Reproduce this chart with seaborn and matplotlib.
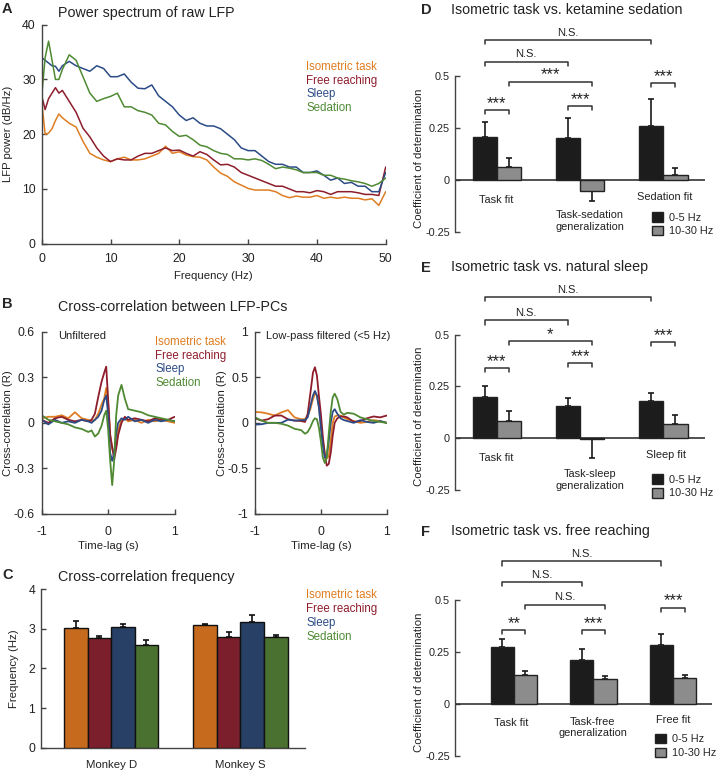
import numpy as np
import pandas as pd
import matplotlib
matplotlib.use("Agg")
import matplotlib.pyplot as plt
import seaborn as sns

# ---------------- data ----------------
conditions = ["Isometric task", "Free reaching", "Sleep", "Sedation"]

# A: power spectrum of raw LFP (dB/Hz)
freq_hz = [0, 0.5, 1, 1.5, 2, 2.5, 3, 4, 5, 6, 7, 8, 9, 10, 11, 12, 13, 14, 15, 16, 17, 18,
           19, 20, 21, 22, 23, 24, 25, 26, 27, 28, 29, 30, 31, 32, 33, 34, 35, 36, 37, 38,
           39, 40, 41, 42, 43, 44, 45, 46, 47, 48, 49, 50]
power_iso = [26, 20, 20.2, 21, 22.5, 23.7, 23, 22, 21.3, 18.7, 16.5, 15.8, 15.3, 15, 15.5, 15.8,
             15.3, 15.3, 15.5, 16, 16.5, 17.8, 16.5, 16.8, 16.2, 15.9, 15.8, 15.3, 14, 12.9, 12.3,
             11.3, 10.7, 10.1, 9.8, 9.8, 9.8, 9.5, 8.8, 8.4, 8.7, 8.5, 8.5, 8.8, 8.3, 8.5, 8.3,
             8.5, 8.3, 8.3, 8, 8.2, 7.0, 9.5]
power_free = [27, 24.5, 26.5, 27.5, 28.5, 27.5, 28, 26, 24, 21.1, 19.5, 17.5, 16, 15, 15.5, 15.3,
              15.3, 16, 16.5, 16.5, 17, 17.5, 17, 17.1, 16.5, 16, 16.8, 16.3, 15.3, 14.4, 14.5,
              14, 13, 12.5, 12, 11.5, 11, 10.5, 10.5, 10, 9.5, 9.5, 9.3, 9.7, 9.5, 9, 9.5, 9.5,
              9.5, 9.3, 9, 9, 8.8, 14]
power_sleep = [34, 33.5, 33, 32.5, 32.4, 31.5, 32.5, 33.3, 32.5, 32, 31.5, 32.5, 32, 30.5, 30.5,
               31, 29.5, 28.4, 28.3, 29, 27, 26, 25, 23.5, 22.5, 23, 22, 21.5, 21.5, 21, 20, 19,
               17.5, 17, 17, 16, 15, 14.5, 14.5, 14, 14, 13, 13, 13.3, 12.5, 11.6, 12, 11, 11.2,
               10.5, 10.5, 9.5, 9.5, 13]
power_sed = [27, 34, 37, 33.5, 30, 30, 31.8, 34.5, 33.5, 30.5, 27.5, 26, 26.5, 26.9, 27.5, 25,
             25, 24.3, 24, 23.5, 22, 21.7, 20.5, 19.6, 19.8, 19, 18, 17.7, 17, 16.5, 16.3, 15.5,
             15.5, 15.3, 15.5, 15.2, 14.5, 13.7, 14, 13.8, 13.5, 13, 13, 13, 12.5, 12.5, 12,
             11.8, 11.5, 11.3, 11, 10.5, 11, 12]

# B: cross-correlation between LFP-PCs
lag_raw = [-1, -0.9, -0.8, -0.7, -0.6, -0.5, -0.4, -0.3, -0.25, -0.2, -0.15, -0.1, -0.06, -0.03,
           0, 0.03, 0.06, 0.09, 0.12, 0.15, 0.2, 0.25, 0.3, 0.4, 0.5, 0.6, 0.7, 0.8, 0.9, 1.0]
cc_raw_iso = [0.03, 0.04, 0.04, 0.05, 0.03, 0.07, 0.03, 0.02, 0.01, 0.02, 0.06, 0.12, 0.16, 0.23,
              0.12, -0.08, -0.17, -0.21, -0.15, -0.05, 0.02, 0.03, 0.01, 0.02, 0.0, 0.02, 0.01,
              0.02, 0.01, 0.0]
cc_raw_free = [0.02, 0.0, 0.03, 0.04, 0.02, 0.01, 0.02, 0.01, 0.02, 0.06, 0.17, 0.27, 0.33, 0.37,
               0.15, -0.08, -0.16, -0.24, -0.17, -0.08, 0.0, 0.04, 0.02, 0.03, 0.02, 0.01, 0.03,
               0.02, 0.02, 0.04]
cc_raw_sleep = [0.02, -0.01, 0.02, 0.0, 0.01, 0.0, 0.02, 0.01, 0.0, 0.02, 0.04, 0.08, 0.15, 0.18,
                0.05, -0.2, -0.25, -0.2, -0.07, 0.0, 0.03, 0.02, 0.04, 0.01, 0.02, 0.0, 0.02,
                0.01, 0.02, 0.01]
cc_raw_sed = [0.05, 0.02, 0.01, 0.0, -0.01, -0.03, -0.04, -0.06, -0.05, -0.09, -0.07, -0.02,
              0.05, 0.08, -0.05, -0.25, -0.41, -0.25, 0.05, 0.18, 0.25, 0.16, 0.09, 0.08, 0.07,
              0.05, 0.04, 0.03, 0.02, 0.01]

lag_lp = [-1, -0.9, -0.8, -0.7, -0.6, -0.5, -0.4, -0.3, -0.24, -0.2, -0.16, -0.12, -0.09, -0.06,
          -0.03, 0.0, 0.03, 0.06, 0.09, 0.12, 0.15, 0.18, 0.21, 0.25, 0.3, 0.35, 0.4, 0.5, 0.6,
          0.7, 0.8, 0.9, 1.0]
cc_lp_iso = [0.12, 0.115, 0.1, 0.08, 0.115, 0.14, 0.06, 0.04, 0.04, 0.08, 0.15, 0.26, 0.32, 0.3,
             0.18, -0.02, -0.2, -0.33, -0.39, -0.37, -0.2, 0.0, 0.07, 0.08, 0.08, 0.06, 0.04,
             0.02, 0.0, 0.01, 0.03, 0.02, 0.0]
cc_lp_free = [0.05, 0.025, 0.04, 0.08, 0.08, 0.04, 0.025, 0.02, 0.01, 0.1, 0.32, 0.55, 0.61,
              0.52, 0.3, 0.1, -0.15, -0.35, -0.47, -0.45, -0.33, -0.14, 0.0, 0.05, 0.07, 0.07,
              0.06, 0.01, 0.02, 0.05, 0.07, 0.06, 0.08]
cc_lp_sleep = [-0.02, -0.015, 0.0, 0.0, 0.0, 0.035, 0.025, 0.03, 0.03, 0.06, 0.18, 0.3, 0.35,
               0.3, 0.17, -0.05, -0.25, -0.38, -0.36, -0.2, 0.0, 0.12, 0.15, 0.1, 0.05, 0.03,
               0.02, 0.0, 0.03, 0.01, 0.0, 0.02, 0.0]
cc_lp_sed = [0.06, 0.025, 0.0, 0.0, -0.01, -0.03, -0.065, -0.08, -0.12, -0.1, -0.05, 0.02, 0.05,
             0.04, -0.05, -0.2, -0.38, -0.44, -0.38, -0.12, 0.12, 0.28, 0.32, 0.26, 0.12, 0.09,
             0.11, 0.1, 0.06, 0.04, 0.02, 0.01, 0.0]

# C: cross-correlation frequency (Hz), [Monkey D, Monkey S]
monkeys = ["Monkey D", "Monkey S"]
ccf_iso = [3.01, 3.09]
ccf_free = [2.76, 2.79]
ccf_sleep = [3.03, 3.16]
ccf_sed = [2.59, 2.78]
ccf_iso_err = [0.18, 0.04]
ccf_free_err = [0.06, 0.13]
ccf_sleep_err = [0.10, 0.18]
ccf_sed_err = [0.12, 0.06]

# D-F: coefficient of determination
bands = ["0-5 Hz", "10-30 Hz"]
models_d = ["Task fit", "Task-sedation\ngeneralization", "Sedation fit"]
r2_d_low = [0.205, 0.20, 0.26]
r2_d_high = [0.06, -0.055, 0.025]
r2_d_low_err = [0.075, 0.097, 0.13]
r2_d_high_err = [0.044, 0.045, 0.033]

models_e = ["Task fit", "Task-sleep\ngeneralization", "Sleep fit"]
r2_e_low = [0.20, 0.155, 0.18]
r2_e_high = [0.08, -0.004, 0.07]
r2_e_low_err = [0.05, 0.04, 0.04]
r2_e_high_err = [0.05, 0.091, 0.04]

models_f = ["Task fit", "Task-free\ngeneralization", "Free fit"]
r2_f_low = [0.274, 0.213, 0.285]
r2_f_high = [0.139, 0.119, 0.126]
r2_f_low_err = [0.04, 0.051, 0.054]
r2_f_high_err = [0.02, 0.015, 0.014]

# significance marks: ((group, band), (group, band), label)
sig_d = [((0, 0), (0, 1), "***"), ((1, 0), (1, 1), "***"), ((2, 0), (2, 1), "***"),
         ((0, 1), (1, 1), "***"), ((0, 0), (1, 0), "N.S."), ((0, 0), (2, 0), "N.S.")]
sig_e = [((0, 0), (0, 1), "***"), ((1, 0), (1, 1), "***"), ((2, 0), (2, 1), "***"),
         ((0, 1), (1, 1), "*"), ((0, 0), (1, 0), "N.S."), ((0, 0), (2, 0), "N.S.")]
sig_f = [((0, 0), (0, 1), "**"), ((1, 0), (1, 1), "***"), ((2, 0), (2, 1), "***"),
         ((0, 1), (1, 1), "N.S."), ((0, 0), (1, 0), "N.S."), ((0, 0), (2, 0), "N.S.")]

# ---------------- style ----------------
line_colors = ["#DF7D22", "#8E1D2C", "#2C4B86", "#4F8A33"]
bar_colors = ["#C66A1E", "#7A1F2B", "#283F66", "#4B7130"]
band_colors = ["#1C1C1C", "#8C8C8C"]
spine_c = "#444444"
text_c = "#222222"

sns.set_style("ticks")
plt.rcParams["font.family"] = ["Liberation Sans", "DejaVu Sans"]
plt.rcParams["axes.unicode_minus"] = False

W, H = 720, 773
fig = plt.figure(figsize=(W / 100, H / 100), dpi=100)


def add_ax(x0, y0, x1, y1):
    return fig.add_axes([x0 / W, 1 - y1 / H, (x1 - x0) / W, (y1 - y0) / H])


def ftext(x, y, s, **kw):
    fig.text(x / W, 1 - y / H, s, va="center", **kw)


def style_axes(ax, xpad=6.5, ypad=4.3, ticksize=8.8):
    sns.despine(ax=ax)
    for s in ("left", "bottom"):
        ax.spines[s].set_color(spine_c)
        ax.spines[s].set_linewidth(1.0)
    ax.tick_params(direction="in", length=3.5, width=1, color=spine_c,
                   labelsize=ticksize, labelcolor=text_c)
    ax.tick_params(axis="x", pad=xpad)
    ax.tick_params(axis="y", pad=ypad)
    ax.xaxis.label.set_size(8.2)
    ax.yaxis.label.set_size(8.2)
    ax.xaxis.label.set_color(text_c)
    ax.yaxis.label.set_color(text_c)


def long_df(x, series, xname, yname):
    return pd.concat([pd.DataFrame({xname: x, yname: s, "condition": c})
                      for c, s in zip(conditions, series)], ignore_index=True)


# ---------------- A ----------------
ax_a = add_ax(41.7, 24.7, 385.7, 243.7)
df_a = long_df(freq_hz, [power_iso, power_free, power_sleep, power_sed], "freq", "power")
sns.lineplot(data=df_a, x="freq", y="power", hue="condition", hue_order=conditions,
             palette=line_colors, linewidth=1.1, estimator=None, legend=False, ax=ax_a)
ax_a.set(xlim=(0, 50), ylim=(0, 40), xticks=[0, 10, 20, 30, 40, 50], yticks=[0, 10, 20, 30, 40])
ax_a.set_xlabel("Frequency (Hz)")
ax_a.set_ylabel("LFP power (dB/Hz)")
style_axes(ax_a, xpad=6.5, ypad=4.3)
ax_a.xaxis.set_label_coords(0.5, -0.125)
ax_a.yaxis.set_label_coords(-0.083, 0.5)
ftext(2, 9, "A", fontsize=10.5, fontweight="bold")
ftext(58, 13, "Power spectrum of raw LFP", fontsize=10.3, color=text_c)
for i, (c, col) in enumerate(zip(conditions, line_colors)):
    ftext(306.5, 66.7 + 13.9 * i, c, fontsize=8.3, color=col)

# ---------------- B ----------------
raw_ticks = [-0.6, -0.3, 0, 0.3, 0.6]
raw_ticklabels = ["-0.6", "-0.3", "0", "0.3", "0.6"]
lp_ticks = [-1, -0.5, 0, 0.5, 1]
lp_ticklabels = ["-1", "-0.5", "0", "0.5", "1"]
lag_ticks = [-1, 0, 1]
lag_ticklabels = ["-1", "0", "1"]

ax_b1 = add_ax(41.7, 331.7, 174.7, 514)
ax_b2 = add_ax(255, 331.7, 386.7, 514)
panels_b = [
    (ax_b1, lag_raw, [cc_raw_iso, cc_raw_free, cc_raw_sleep, cc_raw_sed], (-0.6, 0.6),
     raw_ticks, raw_ticklabels, "Unfiltered", -0.218),
    (ax_b2, lag_lp, [cc_lp_iso, cc_lp_free, cc_lp_sleep, cc_lp_sed], (-1, 1),
     lp_ticks, lp_ticklabels, "Low-pass filtered (<5 Hz)", -0.214),
]
for ax, lags, series, ylim, yt, ytl, note, ylab_x in panels_b:
    df_b = long_df(lags, series, "lag", "cc")
    sns.lineplot(data=df_b, x="lag", y="cc", hue="condition", hue_order=conditions,
                 palette=line_colors, linewidth=1.3, estimator=None, legend=False, ax=ax)
    ax.set(xlim=(-1, 1), ylim=ylim)
    ax.set_xticks(lag_ticks, lag_ticklabels)
    ax.set_yticks(yt, ytl)
    ax.set_xlabel("Time-lag (s)")
    ax.set_ylabel("Cross-correlation (R)")
    style_axes(ax, xpad=8.5, ypad=5)
    ax.xaxis.set_label_coords(0.5, -0.15)
    ax.yaxis.set_label_coords(ylab_x, 0.5)
    ax.text(0.12 if ax is ax_b1 else 0.08, 0.975, note, transform=ax.transAxes,
            fontsize=8, color=text_c, va="center")
ftext(2, 304, "B", fontsize=10.5, fontweight="bold")
ftext(58, 307, "Cross-correlation between LFP-PCs", fontsize=10.3, color=text_c)
for i, (c, col) in enumerate(zip(conditions, line_colors)):
    ftext(155, 341.7 + 13.9 * i, c, fontsize=8.3, color=col)

# ---------------- C ----------------
ax_c = add_ax(41.3, 589, 305, 747.7)
df_c = long_df(monkeys, [ccf_iso, ccf_free, ccf_sleep, ccf_sed], "monkey", "freq")
sns.barplot(data=df_c, x="monkey", y="freq", hue="condition", hue_order=conditions,
            palette=bar_colors, width=0.73, edgecolor="#111111", linewidth=1.0,
            errorbar=None, legend=False, saturation=1, ax=ax_c, zorder=3)
for cont, vals, errs in zip(ax_c.containers, [ccf_iso, ccf_free, ccf_sleep, ccf_sed],
                            [ccf_iso_err, ccf_free_err, ccf_sleep_err, ccf_sed_err]):
    xs = [b.get_x() + b.get_width() / 2 for b in cont]
    ax_c.errorbar(xs, vals, yerr=[[0] * len(errs), errs], fmt="none", ecolor="#111111",
                  elinewidth=1.2, capsize=2, capthick=1.2, zorder=2)
ax_c.set(xlim=(-0.54, 1.5), ylim=(0, 4), yticks=[0, 1, 2, 3, 4])
ax_c.set_xlabel("")
ax_c.set_ylabel("Frequency (Hz)")
style_axes(ax_c, xpad=9, ypad=4.5)
ax_c.tick_params(axis="x", length=0, labelsize=8.2)
ax_c.yaxis.set_label_coords(-0.085, 0.5)
ftext(2, 575, "C", fontsize=10.5, fontweight="bold")
ftext(58, 577, "Cross-correlation frequency", fontsize=10.3, color=text_c)
for i, (c, col) in enumerate(zip(conditions, line_colors)):
    ftext(306.5, 595 + 13.9 * i, c, fontsize=8.3, color=col)


# ---------------- D-F ----------------
def r2_panel(ax, models, low, high, low_err, high_err, sig, levels, xlim, label_xy,
             legend_xy):
    df = pd.DataFrame({"model": models * 2,
                       "band": [bands[0]] * len(models) + [bands[1]] * len(models),
                       "r2": low + high})
    ax.axhline(0, color="#333333", lw=1.2, zorder=1)
    sns.barplot(data=df, x="model", y="r2", hue="band", hue_order=bands, palette=band_colors,
                width=0.58, edgecolor="#222222", linewidth=1.0, errorbar=None, saturation=1,
                ax=ax, zorder=3)
    centers = []
    for cont, vals, errs in zip(ax.containers, [low, high], [low_err, high_err]):
        xs = [b.get_x() + b.get_width() / 2 for b in cont]
        centers.append(xs)
        down = [e if v < 0 else 0 for v, e in zip(vals, errs)]
        up = [e if v >= 0 else 0 for v, e in zip(vals, errs)]
        ax.errorbar(xs, vals, yerr=[down, up], fmt="none", ecolor="#1A1A1A",
                    elinewidth=1.2, capsize=2, capthick=1.2, zorder=2)
    for ((g1, b1), (g2, b2), txt), y in zip(sig, levels):
        x1, x2 = centers[b1][g1], centers[b2][g2]
        ax.plot([x1, x1, x2, x2], [y - 0.02, y, y, y - 0.02], color="#333333", lw=1.1)
        if "*" in txt:
            ax.text((x1 + x2) / 2, y - 0.004, txt, ha="center", va="bottom", fontsize=12,
                    color=text_c)
        else:
            ax.text((x1 + x2) / 2, y + 0.012, txt, ha="center", va="bottom", fontsize=8,
                    color=text_c)
    for m, (x, y) in zip(models, label_xy):
        ax.text(x, y, m, ha="center", va="center", fontsize=7.9, color=text_c,
                linespacing=1.2)
    ax.set(xlim=xlim, ylim=(-0.26, 0.8))
    ax.set_yticks([-0.25, 0, 0.25, 0.5], ["-0.25", "0", "0.25", "0.5"])
    ax.set_xticks([])
    ax.set_xlabel("")
    ax.set_ylabel("Coefficient of determination")
    style_axes(ax, ypad=3.6, ticksize=7.8)
    sns.despine(ax=ax, bottom=True)
    ax.spines["left"].set_bounds(-0.25, 0.5)
    ax.yaxis.set_label_coords(-0.122, 0.345)
    sns.move_legend(ax, "upper left", bbox_to_anchor=legend_xy, title=None, frameon=False,
                    fontsize=7.8, handlelength=1.0, handleheight=1.0, handletextpad=0.6,
                    labelspacing=0.3, borderpad=0, borderaxespad=0)


ax_d = add_ax(455, 13.6, 705, 234)
r2_panel(ax_d, models_d, r2_d_low, r2_d_high, r2_d_low_err, r2_d_high_err, sig_d,
         [0.337, 0.356, 0.465, 0.473, 0.569, 0.673],
         (-0.5, 2.5), [(0, -0.096), (1.12, -0.197), (2.02, -0.082)], (0.788, 0.1))
ftext(421, 10, "D", fontsize=10.5, fontweight="bold")
ftext(451, 10, "Isometric task vs. ketamine sedation", fontsize=10.3, color=text_c)

ax_e = add_ax(455, 273, 705, 491.6)
r2_panel(ax_e, models_e, r2_e_low, r2_e_high, r2_e_low_err, r2_e_high_err, sig_e,
         [0.338, 0.362, 0.464, 0.471, 0.57, 0.682],
         (-0.5, 2.5), [(0, -0.097), (1.12, -0.204), (2.03, -0.083)], (0.788, 0.08))
ftext(421, 268, "E", fontsize=10.5, fontweight="bold")
ftext(451, 267, "Isometric task vs. natural sleep", fontsize=10.3, color=text_c)

ax_f = add_ax(455, 538, 712, 758)
r2_panel(ax_f, models_f, r2_f_low, r2_f_high, r2_f_low_err, r2_f_high_err, sig_f,
         [0.356, 0.356, 0.465, 0.479, 0.588, 0.6875],
         (-0.74, 2.49), [(-0.04, -0.091), (0.99, -0.113), (2.0, -0.077)], (0.778, 0.11))
ftext(421, 532, "F", fontsize=10.5, fontweight="bold")
ftext(451, 531, "Isometric task vs. free reaching", fontsize=10.3, color=text_c)

fig.savefig("out.png", dpi=100)
